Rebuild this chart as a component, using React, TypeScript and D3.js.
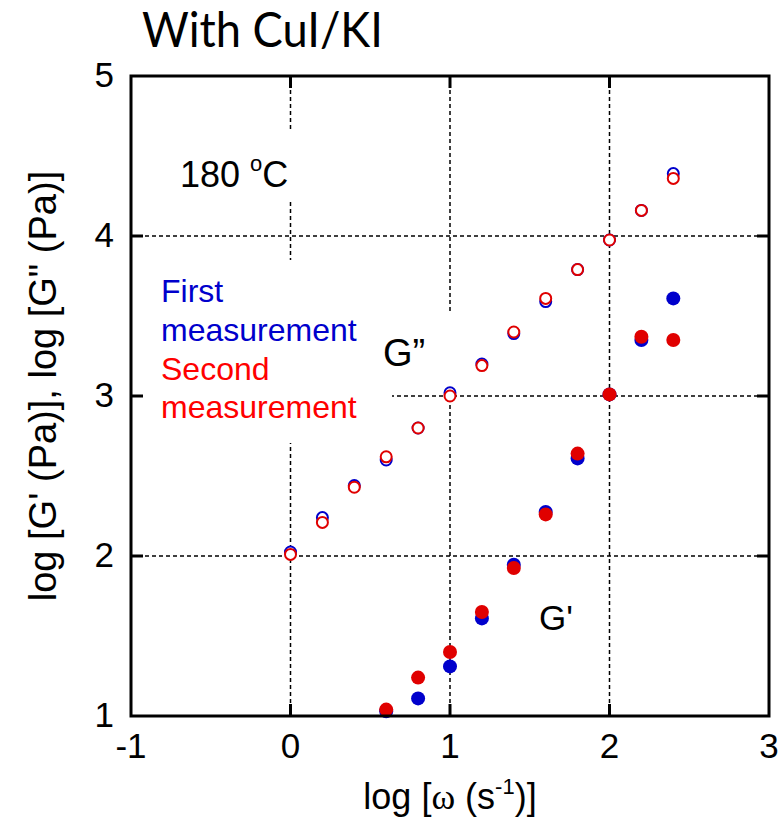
import React from "react";
import * as d3 from "d3";

const xTicks = [-1, 0, 1, 2, 3];
const yTicks = [1, 2, 3, 4, 5];
const gridX = [0, 1, 2];
const gridY = [2, 3, 4];

const logOmega = [0, 0.2, 0.4, 0.6, 0.8, 1.0, 1.2, 1.4, 1.6, 1.8, 2.0, 2.2, 2.4];
const gpp1 = [2.025, 2.24, 2.44, 2.6, 2.8, 3.02, 3.2, 3.39, 3.59, 3.79, 3.975, 4.16, 4.39];
const gpp2 = [2.01, 2.21, 2.43, 2.62, 2.8, 3.0, 3.19, 3.4, 3.61, 3.79, 3.975, 4.16, 4.36];

const logOmegaGp = [0.6, 0.8, 1.0, 1.2, 1.4, 1.6, 1.8, 2.0, 2.2, 2.4];
const gp1 = [1.03, 1.11, 1.31, 1.61, 1.945, 2.275, 2.61, 3.01, 3.35, 3.61];
const gp2 = [1.04, 1.24, 1.4, 1.65, 1.925, 2.26, 2.64, 3.01, 3.37, 3.35];

const BLUE = "#0000cc";
const RED = "#e00000";

export default function App() {
  const W = 782, H = 819;
  const L = 131, R = 769, T = 76, B = 716;
  const x = d3.scaleLinear().domain([-1, 3]).range([L, R]);
  const y = d3.scaleLinear().domain([1, 5]).range([B, T]);
  const font = "'Liberation Sans', Arial, sans-serif";
  const tickLen = 12;

  const openPts = (xs: number[], ys: number[], c: string) =>
    xs.map((v, i) => (
      <circle key={c + "o" + i} cx={x(v)} cy={y(ys[i])} r={5.5} fill="white" stroke={c} strokeWidth={2} />
    ));
  const filledPts = (xs: number[], ys: number[], c: string) =>
    xs.map((v, i) => (
      <circle key={c + "f" + i} cx={x(v)} cy={y(ys[i])} r={7} fill={c} />
    ));

  return (
    <svg width={W} height={H} style={{ position: "absolute", left: 0, top: 0, background: "white" }}>
      <rect x={0} y={0} width={W} height={H} fill="white" />
      {/* gridlines */}
      {gridX.map((v) => (
        <line key={"gx" + v} x1={x(v)} x2={x(v)} y1={T} y2={B} stroke="black" strokeWidth={1.5} strokeDasharray="4,3" />
      ))}
      {gridY.map((v) => (
        <line key={"gy" + v} x1={L} x2={R} y1={y(v)} y2={y(v)} stroke="black" strokeWidth={1.5} strokeDasharray="4,3" />
      ))}
      {/* label backgrounds breaking gridlines */}
      <rect x={170} y={131} width={130} height={68} fill="white" />
      <rect x={L + 2} y={260} width={259} height={183} fill="white" />
      <rect x={380} y={313} width={75} height={78} fill="white" />

      {/* ticks on all sides */}
      {gridX.map((v) => (
        <g key={"tx" + v}>
          <line x1={x(v)} x2={x(v)} y1={B} y2={B - tickLen} stroke="black" strokeWidth={3} />
          <line x1={x(v)} x2={x(v)} y1={T} y2={T + tickLen} stroke="black" strokeWidth={3} />
        </g>
      ))}
      {gridY.map((v) => (
        <g key={"ty" + v}>
          <line x1={L} x2={L + tickLen} y1={y(v)} y2={y(v)} stroke="black" strokeWidth={3} />
          <line x1={R} x2={R - tickLen} y1={y(v)} y2={y(v)} stroke="black" strokeWidth={3} />
        </g>
      ))}

      {/* data */}
      {openPts(logOmega, gpp1, BLUE)}
      {openPts(logOmega, gpp2, RED)}
      {filledPts(logOmegaGp, gp1, BLUE)}
      {filledPts(logOmegaGp, gp2, RED)}

      {/* frame */}
      <rect x={L} y={T} width={R - L} height={B - T} fill="none" stroke="black" strokeWidth={3} />

      {/* tick labels */}
      {xTicks.map((v) => (
        <text key={"xl" + v} x={x(v)} y={758} textAnchor="middle" fontFamily={font} fontSize={35} fill="black">
          {v}
        </text>
      ))}
      {yTicks.map((v) => (
        <text key={"yl" + v} x={114} y={y(v) + 11} textAnchor="end" fontFamily={font} fontSize={35} fill="black">
          {v}
        </text>
      ))}

      {/* title */}
      <text x={142} y={47} fontFamily="Lato, 'Open Sans', sans-serif" fontSize={48} fill="black" textLength={241} lengthAdjust="spacingAndGlyphs">
        With CuI/KI
      </text>

      {/* annotations */}
      <text x={180} y={187} fontFamily={font} fontSize={36} fill="black">
        180 <tspan fontSize={22} dy={-16}>o</tspan><tspan dy={16}>C</tspan>
      </text>
      <text fontFamily={font} fontSize={32}>
        <tspan x={161} y={302} fill={BLUE}>First</tspan>
        <tspan x={161} y={341} fill={BLUE}>measurement</tspan>
        <tspan x={161} y={380} fill="#ff0000">Second</tspan>
        <tspan x={161} y={418} fill="#ff0000">measurement</tspan>
      </text>
      <text x={383} y={366} fontFamily={font} fontSize={38} fill="black">G”</text>
      <text x={539} y={630} fontFamily={font} fontSize={35} fill="black">G'</text>

      {/* axis titles */}
      <text x={450} y={809} textAnchor="middle" fontFamily={font} fontSize={36} fill="black">
        log [<tspan fontFamily="'Liberation Serif', serif">ω</tspan> (s<tspan fontSize={22} dy={-15}>-1</tspan><tspan dy={15}>)]</tspan>
      </text>
      <text transform={`translate(56, 386) rotate(-90)`} textAnchor="middle" fontFamily={font} fontSize={38} fill="black">
        log [G' (Pa)], log [G" (Pa)]
      </text>
    </svg>
  );
}
